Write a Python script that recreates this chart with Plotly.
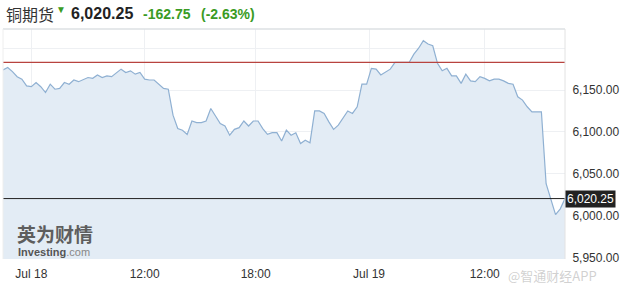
import plotly.graph_objects as go

# ---- data ----
prices = [
    6174, 6177, 6172, 6166, 6163, 6155, 6154, 6159, 6154, 6147,
    6157, 6151, 6152, 6159, 6157, 6162, 6160, 6163, 6165, 6164,
    6168, 6165, 6167, 6166, 6171, 6175, 6171, 6173, 6169, 6171,
    6163, 6162, 6162, 6157, 6152, 6151, 6120, 6104, 6102, 6097,
    6113, 6111, 6111, 6113, 6128, 6119, 6110, 6107, 6096, 6103,
    6105, 6113, 6107, 6113, 6113, 6104, 6097, 6099, 6099, 6089,
    6102, 6096, 6099, 6086, 6090, 6087, 6125, 6125, 6122, 6112,
    6103, 6108, 6116, 6125, 6122, 6130, 6157, 6157, 6176, 6175,
    6168, 6171, 6175, 6183, 6183, 6183, 6183, 6193, 6200, 6209,
    6205, 6203, 6182, 6173, 6176, 6167, 6167, 6158, 6169, 6161,
    6160, 6166, 6164, 6161, 6163, 6163, 6161, 6158, 6157, 6142,
    6138, 6130, 6124, 6124, 6124, 6038, 6018, 6001, 6008, 6020.25,
]
bar_index = list(range(len(prices)))  # 15-minute bars

x_tick_pos = [6, 30, 53.5, 77.5, 102]
x_tick_text = ["Jul 18", "12:00", "18:00", "Jul 19", "12:00"]

y_tick_vals = [5950, 6000, 6050, 6100, 6150, 6200]
y_tick_text = ["5,950.00", "6,000.00", "6,050.00", "6,100.00", "6,150.00", ""]

prev_close = 6183.0
last_price = 6020.25
change = -162.75
change_pct = -2.63
name = "铜期货"

FONT = "Liberation Sans, Arial, sans-serif"
CJK = "Noto Sans CJK SC, sans-serif"
GREEN = "#3a9b24"

fig = go.Figure()
fig.add_trace(go.Scatter(
    x=bar_index, y=prices, mode="lines",
    line=dict(color="#8fb0d2", width=1.2),
    fill="tozeroy", fillcolor="#e3ecf5",
    hoverinfo="skip", showlegend=False,
))

# reference lines
fig.add_shape(type="line", xref="paper", x0=0, x1=1, yref="y", y0=prev_close, y1=prev_close,
              line=dict(color="#b8433f", width=1.2), layer="above")
fig.add_shape(type="line", xref="paper", x0=0, x1=1, yref="y", y0=last_price, y1=last_price,
              line=dict(color="#222222", width=1), layer="above")

# borders
fig.add_shape(type="line", xref="paper", yref="paper", x0=0, x1=1, y0=1, y1=1,
              line=dict(color="#dde0e3", width=1.5))
fig.add_shape(type="line", xref="paper", yref="paper", x0=1, x1=1, y0=0, y1=1,
              line=dict(color="#e2e2e2", width=1))
fig.add_shape(type="line", xref="paper", yref="paper", x0=0, x1=0, y0=0, y1=1,
              line=dict(color="#eeeeee", width=1))

W, H = 623, 284
ML, MR, MT, MB = 3, 58, 29, 25
PW, PH = W - ML - MR, H - MT - MB


def px(xp):
    return (xp - ML) / PW


def py(yp):
    return (H - MB - yp) / PH


ann = []
ann.append(dict(x=px(4), y=py(14), xref="paper", yref="paper", xanchor="left", yanchor="middle",
                text=name, showarrow=False, font=dict(family=CJK, size=16, color="#333333")))
ann.append(dict(x=px(61), y=py(9), xref="paper", yref="paper", xanchor="center", yanchor="middle",
                text="▼", showarrow=False, font=dict(family=FONT, size=10, color=GREEN)))
ann.append(dict(x=px(69), y=py(14), xref="paper", yref="paper", xanchor="left", yanchor="middle",
                text=f"<b>{last_price:,.2f}</b>", showarrow=False,
                font=dict(family=FONT, size=16, color="#222222")))
ann.append(dict(x=px(141), y=py(14), xref="paper", yref="paper", xanchor="left", yanchor="middle",
                text=f"<b>{change:,.2f}</b>", showarrow=False,
                font=dict(family=FONT, size=14, color=GREEN)))
ann.append(dict(x=px(199), y=py(14), xref="paper", yref="paper", xanchor="left", yanchor="middle",
                text=f"<b>({change_pct:.2f}%)</b>", showarrow=False,
                font=dict(family=FONT, size=14, color=GREEN)))
# last price tag
ann.append(dict(x=1, y=last_price, xref="paper", yref="y", xanchor="left", yanchor="middle",
                text=f"{last_price:,.2f}", showarrow=False, bgcolor="#222222", borderpad=1,
                font=dict(family=FONT, size=12, color="#ffffff")))
# logo watermark
ann.append(dict(x=px(15), y=py(233), xref="paper", yref="paper", xanchor="left", yanchor="middle",
                text="<b>英为财情</b>", showarrow=False,
                font=dict(family=CJK, size=19, color="#5e5e5e")))
ann.append(dict(x=px(16), y=py(252), xref="paper", yref="paper", xanchor="left", yanchor="middle",
                text="<b>Investing</b><span style='color:#888'>.com</span>", showarrow=False,
                font=dict(family=FONT, size=11, color="#555555")))
ann.append(dict(x=px(506), y=py(275), xref="paper", yref="paper", xanchor="left", yanchor="middle",
                text="@智通财经APP", showarrow=False,
                font=dict(family=CJK, size=13, color="rgba(170,170,170,0.55)")))

fig.update_layout(
    width=W, height=H,
    margin=dict(l=ML, r=MR, t=MT, b=MB, pad=0),
    paper_bgcolor="#ffffff", plot_bgcolor="#ffffff",
    showlegend=False,
    annotations=ann,
    xaxis=dict(range=[0, len(prices) - 1], tickvals=x_tick_pos, ticktext=x_tick_text,
               showgrid=True, gridcolor="#eef0f3", gridwidth=1, zeroline=False,
               showline=False, ticks="outside", ticklen=4, tickcolor="rgba(0,0,0,0)",
               tickfont=dict(family=FONT, size=12, color="#333333"), fixedrange=True),
    yaxis=dict(range=[5948, 6223], side="right", tickvals=y_tick_vals, ticktext=y_tick_text,
               showgrid=True, gridcolor="#eef0f3", gridwidth=1, zeroline=False,
               showline=False, ticks="outside", ticklen=4, tickcolor="rgba(0,0,0,0)",
               tickfont=dict(family=FONT, size=12, color="#333333"), fixedrange=True),
)

fig.write_html("out.html")
